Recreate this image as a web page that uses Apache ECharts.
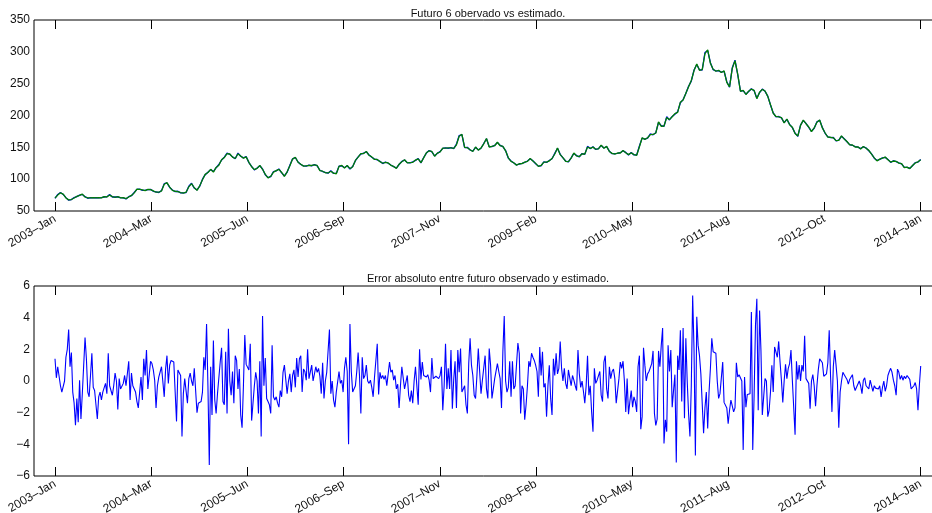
<!DOCTYPE html>
<html><head><meta charset="utf-8">
<script src="https://cdn.jsdelivr.net/npm/echarts@6/dist/echarts.min.js"></script>
<style>html,body{margin:0;padding:0;background:#fff}#c{width:932px;height:513px}</style>
</head><body><div id="c"></div>
<script>
const tickLabels = ['2003\u2013Jan','2004\u2013Mar','2005\u2013Jun','2006\u2013Sep','2007\u2013Nov','2009\u2013Feb','2010\u2013May','2011\u2013Aug','2012\u2013Oct','2014\u2013Jan'];
const tituloSuperior = 'Futuro 6 obervado vs estimado.';
const tituloInferior = 'Error absoluto entre futuro observado y estimado.';

const futuroObservado = [
70,76,79,76,71,67,68,71,72.5,75,
76,72.5,70,71,70.5,71,70.5,71,72,72.5,
76,72,72,72,71,70.5,69,72.5,74,79,
84,84.5,82.5,82.5,83.5,84,81,80,79,82,
93,94,87,83,80.5,81,78.5,78.5,79,89,
93.5,86,83,89,100,107,111,115,112,118,
123,130,134.5,141,139,135,132,141,136,133.5,
135.5,126,120,114.5,117.5,121,116,107,102.5,104,
112,113,116,110,105,111,122,132,134,127,
123,121,120.5,122,121,123,121,114,
112,110.5,109.3,113.4,109,109,120.5,121,118,121,
116,120,129,135,139.5,140.8,143,138,134.5,131.5,
130.5,128,124.5,127,125,122.2,119.6,117.5,123,128,
130,126,125.5,127,129.5,132.5,125.5,134,141,145,
143,136.5,140.5,143.2,148.4,149.3,148.4,149.5,148,155,
168.5,170,149.5,150,145.8,144,150,146,148.6,156,
163.5,151,151,153,157.5,153,151,145,133,128.5,
125.3,122.5,123.7,124.9,126.2,128.5,132,129,124.3,120.5,
121,127.3,126.2,129.3,132,140.5,148.4,139,133.4,128.5,
127,133.5,140.5,137,135,140.3,139,151.5,148,150.8,
146.6,148,153,149,151,144,140,140,140.6,141.6,
144.5,142,138,142,138,138,152,164.5,163,164.5,
171,169.7,173,189,184,183,198,193,198.5,202,
206,220,225,234.5,246,254,271.5,280,271.7,271.5,
299,302,283,272,270,270,268,269.5,253,244.5,
275,287,264,238.5,239,233.5,237.7,242,239,227,
236,241.5,238,230.5,216.5,204,198,198.5,196.3,188.8,
194,186,181,172.3,167.3,185,192.2,187.6,181.5,175.2,
180,190,192.5,181,172,166.5,165.3,165.5,160,161.5,
167.4,163.5,158.7,154.3,153.2,151,150.3,148,150.8,149,
144.7,139.7,133,129.3,131,133.5,134.2,131,126.4,129,
127.6,125.7,123.9,118.5,118.4,117,121,125.9,126.8,131
];

const futuroEstimado = [
70.5,75,78.5,76.5,70.5,67.5,68,70.5,73,74.5,
76.5,72,70.5,70.5,71,70.5,71,70.5,72.5,72,
75,72.5,71.5,72.5,70.5,71,69.5,72,74.5,78.5,
84.5,84,83,82,84,83.5,81.5,79.5,79.5,81.5,
92,94.5,87.5,82.5,81,80.5,79,78,79.5,88,
93,86.5,82.5,89.5,99,107.5,110.5,115.5,111,118.5,
122,130.5,134,140,139.5,134.5,132.5,140,136.5,133,
135,126.5,119.5,115,117,121.5,115.5,107.5,102,104.5,
111,113.5,115.5,110.5,104.5,111.5,121,131.5,134.5,126.5,
123.5,120.5,121,121.5,121.5,122.5,121.5,113.5,
112.5,110,109.8,112.5,109.5,108.5,120,121.5,117.5,121.5,
116.5,119.5,129.5,134.5,140,140.3,143.5,137.5,135,131,
131,127.5,125,126.5,125.5,121.7,120,117,123.5,127.5,
130.5,125.5,126,126.5,130,132,126,133.5,141.5,144.5,
143.5,136,141,142.7,148.9,148.8,149,149,148.5,154,
167.5,170.5,150,149.5,146.3,143.5,150.5,145.5,149,155.5,
164,150.5,151.5,152.5,158,152.5,151.5,144.5,133.5,128,
125.8,122,124.2,124.4,126.7,128,132.5,128.5,124.8,120,
121.5,126.8,126.7,128.8,132.5,139.5,149,138.5,133.9,128,
127.5,133,141,136.5,135.5,139.8,139.5,150.5,148.5,150.3,
147.1,147.5,153.5,148.5,151.5,143.5,140.5,139.5,141.1,141.1,
145,141.5,138.5,141.5,138.5,137.5,151,165,162.5,165,
170,170.2,172.5,190,183,183.5,197,193.5,198,203,
205,221,224.5,235,245,255,270.5,281,271,272,
297,303,282,272.5,269.5,271,267.5,270,252,245,
274,286,265,238,239.5,233,238.2,241.5,239.5,226.5,
236.5,241,238.5,230,217,203.5,198.5,198,196.8,188.3,
194.5,185.5,181.5,171.8,167.8,184.5,192.7,187.1,182,174.7,
180.5,189.5,193,180.5,172.5,166,165.8,165,160.5,161,
167.9,163,159.2,153.8,153.7,150.5,150.8,147.5,151.3,148.5,
145.2,139.2,133.5,128.8,131.5,133,134.7,130.5,126.9,128.5,
128.1,125.2,124.4,118,118.9,116.5,121.5,125.4,127.3,130.5
];

const errorAbsoluto = [
1.4,0.2,0.9,0.8,-0.3,-0.7,-0.8,0,1.5,2.0,3.25,0.9,1.8,-0.7,-1.4,-2.8,-1.1,-2.6,0.05,-2.4,
-0.8,-0.7,2.75,1.4,-0.7,-1.0,0.35,1.75,-0.4,-0.6,-0.5,-2.4,-1.0,-0.7,-1.2,-0.7,-0.8,-0.15,-0.8,1.75,
-0.3,-0.4,-0.9,-0.3,0.5,0,-1.8,0.15,-0.5,-0.5,-0.15,0.35,-0.3,-0.4,1.25,-1.2,0.5,-0.3,-0.3,-0.7,
-1.3,-1.7,-0.7,0.25,-1.2,1.4,0.35,1.95,-0.5,-0.5,1.25,1.1,0.7,0.05,-1.7,-0.3,0.25,0.2,0.9,1.0,
-1.0,0.75,1.6,-0.15,1.0,1.3,1.4,1.2,-0.7,-2.55,0.7,0.6,0.35,-3.5,-0.8,0.15,0.25,-1.4,0.15,0.5,
0,-0.3,0.8,0.75,
-2.0,-1.4,-1.4,-1.3,-0.7,1.5,0.7,3.6,-0.3,-5.3,0.9,-2.15,2.55,-1.2,-2.05,-0.8,-0.8,1.2,2.1,-1.3,
-1.5,1.85,-2.05,3.3,0,-0.9,0.6,-1.4,1.6,1.3,-0.5,0.75,-2.15,-2.95,-0.3,2.9,1.05,1.0,0.7,2.35,
-2.5,-2.4,-0.3,0.55,0,-2.05,1.25,-3.5,4.1,-0.3,1.45,-1.1,-1.3,-1.5,-2.05,2.25,-1.0,-1.2,-1.0,-1.4,
-1.65,-0.6,-1.0,0.55,1.0,1.1,-0.8,0,0.45,-0.7,0.35,0.7,-0.4,1.45,0.25,1.4,1.6,-0.7,0.75,0.6,
0.05,2.0,0.15,0.2,1.0,0,0.05,0.9,0.55,0.8,0.3,-0.8,1.15,-1.1,0,0.55,0.55,3.25,-0.8,0,
-1.2,-1.65,-0.7,-0.7,
0.6,-0.15,0.05,-0.7,0.8,1.5,0.6,-4.0,3.6,0.6,-0.7,-0.6,-0.3,0.6,1.8,0.35,-2.05,1.5,0.15,0.35,
1.0,0,-0.15,0.05,-0.4,-1.0,0.25,0.2,2.35,-0.85,0.55,0.15,0.35,0.1,0.35,-0.3,0.45,1.2,0.55,0.7,
0.05,0.35,-0.5,-0.2,-1.7,-0.3,0.9,0.95,-0.5,-0.6,0.35,-0.9,-1.3,-0.6,-1.4,0,0.9,0.8,-1.5,2.0,
0.1,1.2,0.35,0.25,0.25,0.4,0.05,-0.7,1.45,0.15,0.25,0.3,0.4,0.15,0.35,0.9,-1.85,-0.3,2.35,-0.5,
0.8,-0.5,1.95,-1.75,0.1,1.25,-1.7,1.95,0.55,2.05,-0.7,-0.5,-0.3,-1.5,-2.05,1.1,2.7,1.0,0.35,-0.9,
-1.1,0.35,2.05,0.6,-0.8,0.05,
0.15,1.6,-0.5,-1.1,2.05,1.0,-1.1,-0.5,0.15,0.05,1.1,0.6,0.15,-1.7,1.85,4.1,0,-0.7,-0.4,1.25,
-1.0,1.25,-0.5,-0.3,-0.4,2.4,1.75,-2.05,-0.3,-0.5,-2.45,-1.5,-0.3,1.25,0.9,1.75,1.5,1.3,1.0,0.6,
-1.0,2.15,0.35,1.85,-0.4,-0.15,-2.25,-0.3,1.0,-1.1,-2.15,1.4,0.35,1.75,0.45,0.8,2.5,0.8,0,0.8,
-0.15,-0.5,0.7,0.6,-0.3,0.35,0.05,-0.3,-0.6,1.95,0.45,-0.4,0,-0.65,-1.4,-0.3,1.6,-0.9,-0.3,-1.95,
-3.2,0.8,-0.15,0.05,0.05,0.6,-0.9,-1.3,1.2,1.6,-0.5,-1.1,0.9,0.15,0.6,0.75,0.15,-1.4,-1.4,0.15,
1.2,0.8,1.25,0,-1.95,0.15,-2.1,-1.3,
-0.6,-1.65,-1.0,-1.3,-1.95,0.9,1.6,-3.05,-2.25,2.1,1.0,0,0.45,0.6,0.7,1.1,1.9,-2.05,-2.8,-2.4,
1.9,0.9,2.25,3.35,-3.95,-2.45,-3.2,2.25,0.6,1.95,-1.65,-0.6,0.4,-5.15,1.6,0.7,3.2,-1.3,3.35,-2.35,
2.7,0,-2.05,-3.5,-0.3,5.4,1.95,-4.7,4.05,2.25,1.6,0.45,0.35,-3.3,-1.7,-0.7,-3.0,-0.7,0.8,2.7,
1.85,1.8,1.75,0,-1.1,-0.8,-0.8,1.2,-1.35,-1.4,-1.7,-2.7,-1.85,-1.2,-1.15,-1.95,-1.7,1.15,0.25,0.4,
0.45,0,-4.35,0.25,-1.65,-0.85,-0.9,-0.8,4.35,-4.35,-0.9,3.5,5.2,-1.85,4.45,1.95,-2.15,-2.15,0.15,0,
-2.25,-1.85,-0.7,1.0,-0.7,2.15,2.25,1.5,
2.5,1.2,0.05,-1.35,0,1.05,0.15,0.8,1.1,1.95,0.05,0,-3.4,1.25,0.1,1.0,0,1.0,0.6,2.85,
0.15,0.05,-0.15,-1.75,0,0.4,-0.3,-1.6,-0.3,0.7,1.4,1.3,1.15,0.3,0.3,0.45,1.15,3.2,0.25,-1.95,
0.9,1.95,1.0,0,-2.95,-0.7,0,0.55,0.4,0.4,0.1,-0.2,0.1,0.25,0.4,-0.3,-0.6,-0.4,-0.3,0,
-0.3,-0.8,0.05,0.2,-0.3,-0.3,-0.5,0.05,0,-0.65,-0.3,-0.45,-0.4,-0.5,-0.3,-1.0,-0.4,0,-0.65,-0.3,
0.35,0.6,0.8,0.55,0.05,-0.3,-0.9,0.75,0.55,0.1,0.35,0.05,0.3,0.15,0.35,0.4,0.1,-0.5,-0.4,-0.3,
-0.1,-0.5,-1.85,-0.3,0.95
];

// layout (pixels)
const PLOT_L = 34, PLOT_W = 908, FIRST_PX = 55, LAST_PX = 920.7;
function xRange(n) {
  const s = (LAST_PX - FIRST_PX) / (n - 1);
  const min = -(FIRST_PX - PLOT_L) / s;
  return { min: min, max: min + PLOT_W / s };
}
function tickVals(n) {
  const step = (n - 1) / (tickLabels.length - 1);
  return tickLabels.map((_, j) => j * step);
}
const nTop = futuroObservado.length, nErr = errorAbsoluto.length;
const rTop = xRange(nTop), rErr = xRange(nErr);
const tTop = tickVals(nTop), tErr = tickVals(nErr);
const FONT = 'Liberation Sans, Arial, Helvetica, sans-serif';

function labelFor(ticks) {
  return function (v) {
    let best = 0, bd = Infinity;
    ticks.forEach((t, j) => { const d = Math.abs(t - v); if (d < bd) { bd = d; best = j; } });
    return tickLabels[best];
  };
}
function xAxes(gridIndex, r, ticks) {
  return [{
    type: 'value', gridIndex: gridIndex, position: 'bottom', min: r.min, max: r.max,
    splitLine: { show: false }, axisLine: { show: false, onZero: false },
    axisTick: { show: true, inside: true, length: 9, customValues: ticks, lineStyle: { color: '#000' } },
    axisLabel: { show: true, customValues: ticks, rotate: 30, margin: 7, fontSize: 12, color: '#111',
      fontFamily: FONT, formatter: labelFor(ticks), hideOverlap: false }
  }, {
    type: 'value', gridIndex: gridIndex, position: 'top', min: r.min, max: r.max,
    splitLine: { show: false }, axisLine: { show: false, onZero: false },
    axisTick: { show: true, inside: true, length: 9, customValues: ticks, lineStyle: { color: '#000' } },
    axisLabel: { show: false }
  }];
}
function fmtY(v) { return v < 0 ? '\u2212' + (-v) : String(v); }

const chart = echarts.init(document.getElementById('c'), null, { renderer: 'canvas' });
chart.setOption({
  animation: false,
  backgroundColor: '#fff',
  title: [
    { text: tituloSuperior, left: 488, top: 8, textAlign: 'center', padding: 0,
      textStyle: { fontSize: 11, fontWeight: 'normal', color: '#111', fontFamily: FONT } },
    { text: tituloInferior, left: 488, top: 273, textAlign: 'center', padding: 0,
      textStyle: { fontSize: 11, fontWeight: 'normal', color: '#111', fontFamily: FONT } }
  ],
  grid: [
    { left: PLOT_L, top: 20, width: PLOT_W, height: 191, show: true, borderColor: '#000', borderWidth: 1,
      backgroundColor: 'transparent', outerBoundsMode: 'none', containLabel: false },
    { left: PLOT_L, top: 286, width: PLOT_W, height: 190, show: true, borderColor: '#000', borderWidth: 1,
      backgroundColor: 'transparent', outerBoundsMode: 'none', containLabel: false }
  ],
  xAxis: xAxes(0, rTop, tTop).concat(xAxes(1, rErr, tErr)),
  yAxis: [
    { type: 'value', gridIndex: 0, min: 50, max: 350, interval: 50,
      splitLine: { show: false }, axisLine: { show: false, onZero: false }, axisTick: { show: false },
      axisLabel: { margin: 4, fontSize: 12, color: '#111', fontFamily: FONT } },
    { type: 'value', gridIndex: 1, min: -6, max: 6, interval: 2,
      splitLine: { show: false }, axisLine: { show: false, onZero: false }, axisTick: { show: false },
      axisLabel: { margin: 4, fontSize: 12, color: '#111', fontFamily: FONT, formatter: fmtY } }
  ],
  series: [
    { name: 'Observado', type: 'line', xAxisIndex: 0, yAxisIndex: 0, showSymbol: false, symbol: 'none',
      lineStyle: { color: '#0000ff', width: 1.3 }, data: futuroObservado.map((v, i) => [i, v]) },
    { name: 'Estimado', type: 'line', xAxisIndex: 0, yAxisIndex: 0, showSymbol: false, symbol: 'none',
      lineStyle: { color: '#008000', width: 1.3 }, data: futuroEstimado.map((v, i) => [i, v]) },
    { name: 'Error', type: 'line', xAxisIndex: 2, yAxisIndex: 1, showSymbol: false, symbol: 'none',
      lineStyle: { color: '#0000ff', width: 1.1 }, data: errorAbsoluto.map((v, i) => [i, v]) }
  ]
});
</script></body></html>
